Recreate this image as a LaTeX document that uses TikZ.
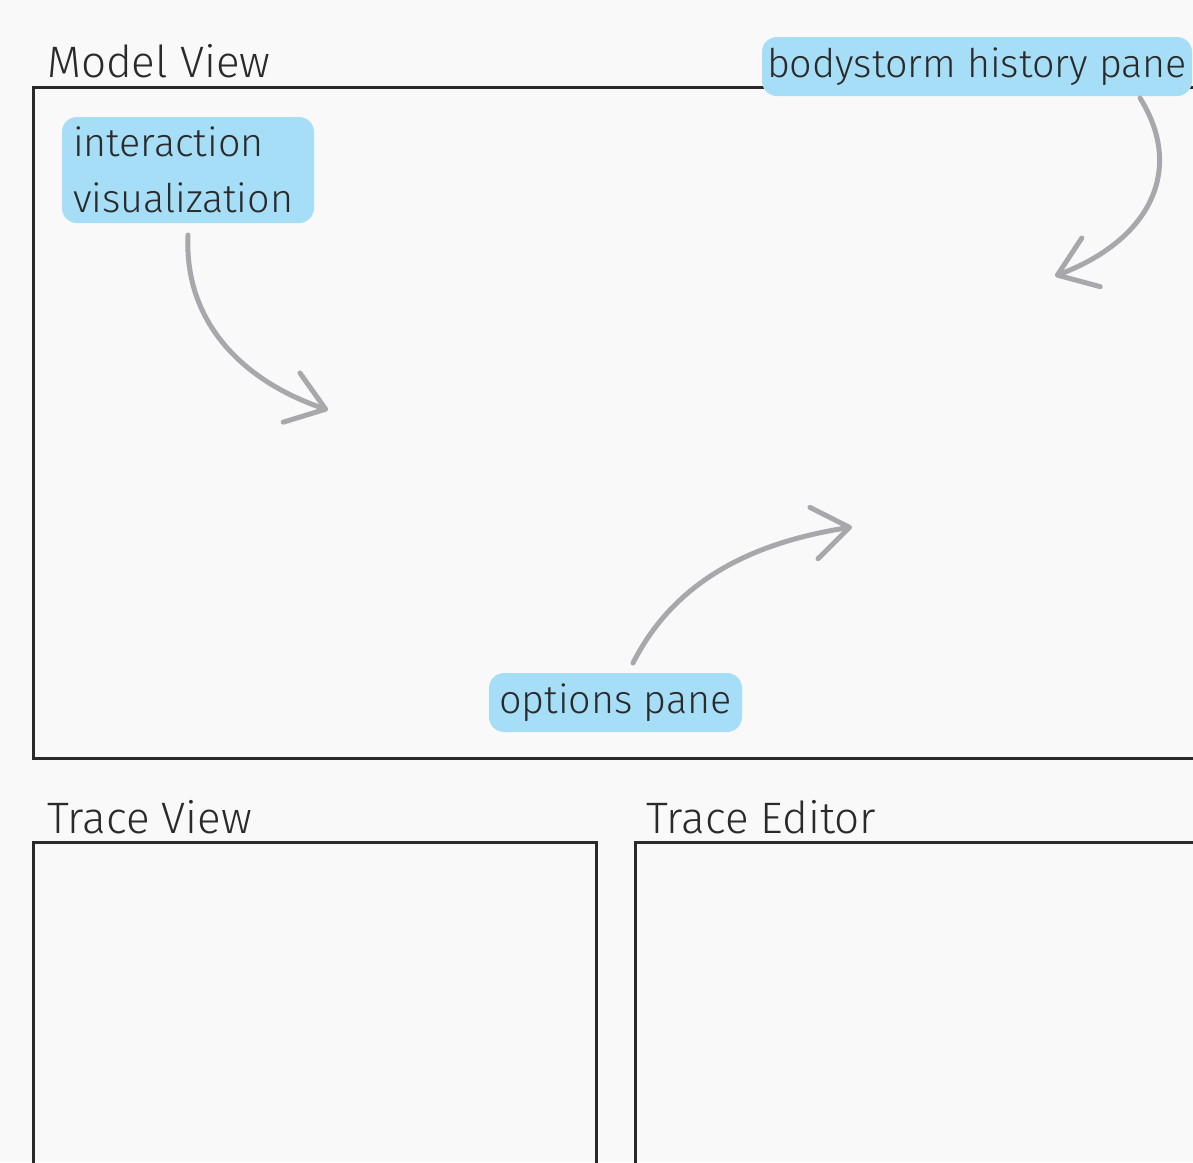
\documentclass[tikz,border=0pt]{standalone}
\usepackage{fontspec}
\setmainfont{Fira Sans Light}
\usetikzlibrary{arrows.meta}
\definecolor{paper}{HTML}{F9F9F9}
\definecolor{ink}{HTML}{2A2A2A}
\definecolor{pill}{HTML}{A6DEF7}
\definecolor{pointer}{HTML}{A8A8AC}
\tikzset{
  panel/.style={draw=ink, line width=3pt},
  paneltitle/.style={anchor=base west, inner sep=0pt, text=ink, font=\fontsize{44}{52}\selectfont},
  tag/.style={fill=pill, rounded corners=15pt, text=ink, inner sep=0pt,
    font=\fontsize{39.5}{56}\selectfont},
  pointerarrow/.style={draw=pointer, line width=5pt, line cap=round,
    -{Straight Barb[length=36pt, width=52pt, line cap=round, round]}}
}
\begin{document}
\begin{tikzpicture}[x=1pt, y=-1pt]
  \clip (0,0) rectangle (1193,1162);
  \fill[paper] (0,0) rectangle (1193,1162);

  % panels
  \draw[panel] (1240,87) -- (33,87) -- (33,758) -- (1240,758);
  \draw[panel] (33,1200) -- (33,842) -- (596,842) -- (596,1200);
  \draw[panel] (635,1200) -- (635,842) -- (1240,842);

  \node[paneltitle] (mvtitle) at (47,77) {Model View};
  \node[paneltitle] (tvtitle) at (47,833) {Trace View};
  \node[paneltitle] (tetitle) at (646,833) {Trace Editor};

  % callout tags
  \node[tag, minimum width=252pt, minimum height=106pt, text width=230pt, align=left]
    (iv) at (188,170) {interaction\\visualization};
  \node[tag, minimum width=430pt, minimum height=59pt] (bh) at (977,66.5) {bodystorm history pane};
  \node[tag, minimum width=253pt, minimum height=59pt] (op) at (615.5,702.5) {options pane};

  % arrow ends
  \coordinate (ivs) at (188,235);
  \coordinate (ivt) at (328,410);
  \coordinate (bhs) at (1140,98);
  \coordinate (bht) at (1055,276);
  \coordinate (ops) at (633,663);
  \coordinate (opt) at (852,527);

  \draw[pointerarrow] (ivs) .. controls (184,320) and (240,380) .. (ivt);
  \draw[pointerarrow] (bhs) .. controls (1185,170) and (1150,240) .. (bht);
  \draw[pointerarrow] (ops) .. controls (680,570) and (770,540) .. (opt);
\end{tikzpicture}
\end{document}
